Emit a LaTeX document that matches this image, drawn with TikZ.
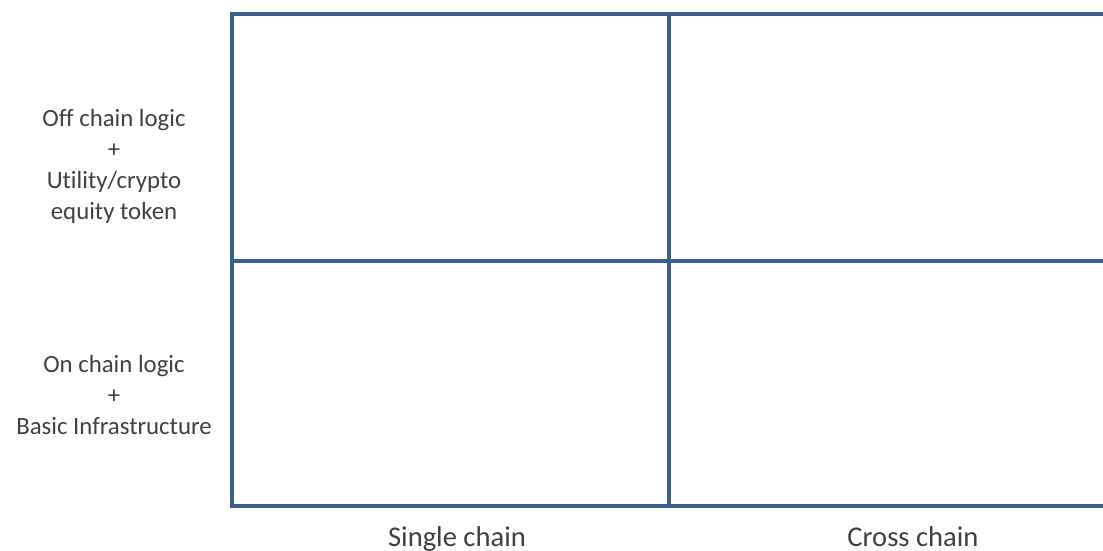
\documentclass[tikz,border=0pt]{standalone}
\usepackage{fontspec}
\setmainfont[Ligatures={NoCommon}]{Carlito}
\definecolor{gridblue}{HTML}{3C5F8D}
\definecolor{txtgray}{HTML}{404040}
\begin{document}
\begin{tikzpicture}[x=1pt,y=-1pt,
  gridline/.style={draw=gridblue,line width=4pt},
  lbl/.style={text=txtgray,font=\fontsize{24.8}{31}\selectfont,align=center,inner sep=0pt},
  axlbl/.style={text=txtgray,font=\fontsize{28.6}{34}\selectfont,inner sep=0pt,anchor=base}]
\useasboundingbox (0,0) rectangle (1103,551);
\coordinate (tl) at (232,14);
\coordinate (bl) at (232,506);
\coordinate (ml) at (232,261);
\coordinate (tr) at (1106,14);
\coordinate (mr) at (1106,261);
\coordinate (br) at (1106,506);
\coordinate (mt) at (669,14);
\coordinate (mb) at (669,506);
\begin{scope}
\clip (0,0) rectangle (1103,551);
\draw[gridline,line cap=rect] (tr) -- (tl) -- (bl) -- (br);
\draw[gridline] (ml) -- (mr);
\draw[gridline] (mt) -- (mb);
\end{scope}
\node[lbl] (top) at (114,166) {Off chain logic\\+\\Utility/crypto\\equity token};
\node[lbl] (bot) at (114,395) {On chain logic\\+\\Basic Infrastructure};
\node[axlbl] (single) at (457,546) {Single chain};
\node[axlbl] (cross) at (913,546) {Cross chain};
\end{tikzpicture}
\end{document}
